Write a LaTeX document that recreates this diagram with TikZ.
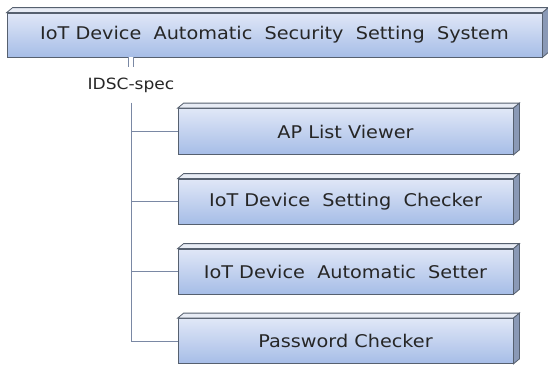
\documentclass[tikz,border=0pt]{standalone}
\usepackage{fontspec}
\setmainfont{DejaVu Sans}[FakeStretch=1.1]
\definecolor{boxtop}{HTML}{E0E7F7}
\definecolor{boxbot}{HTML}{A6BDE7}
\definecolor{boxedge}{HTML}{56606F}
\definecolor{boxlid}{HTML}{E8ECF5}
\definecolor{boxside}{HTML}{8A99B6}
\definecolor{wirecol}{HTML}{7A88A4}
\definecolor{inkcol}{HTML}{262626}
\tikzset{
	block/.style={draw=boxedge, line width=0.8pt, top color=boxtop, bottom color=boxbot,
		text=inkcol, font=\fontsize{17.5}{20}\selectfont, inner sep=0pt},
	lid/.style={draw=boxedge, line width=0.8pt, fill=boxlid},
	side/.style={draw=boxedge, line width=0.8pt, fill=boxside},
	wire/.style={draw=wirecol, line width=0.8pt},
	twin/.style={draw=wirecol, line width=0.9pt, double=white, double distance=3.5pt},
}
\begin{document}
\begin{tikzpicture}[x=1pt, y=-1pt]
	\useasboundingbox (0,0) rectangle (548,365);
	% System
	\node [block, minimum width=535pt, minimum height=44pt] (sys) at (274.5,35) {IoT Device\ \ Automatic\ \ Security\ \ Setting\ \ System};
	% Spec label
	\node [text=inkcol, font=\fontsize{15.5}{18}\selectfont, inner xsep=0pt, inner ysep=10pt] (spec) at (131,85) {IDSC-spec};
	% Modules
	\node [block, minimum width=335pt, minimum height=46pt] (ap) at (345.5,131.5) {AP List Viewer};
	\node [block, minimum width=335pt, minimum height=45pt] (chk) at (345.5,201.5) {IoT Device\ \ Setting\ \ Checker};
	\node [block, minimum width=335pt, minimum height=45pt] (set) at (345.5,271.5) {IoT Device\ \ Automatic\ \ Setter};
	\node [block, minimum width=335pt, minimum height=45pt] (pw) at (345.5,341) {Password Checker};
	% Box depth
	\foreach \n in {sys,ap,chk,set,pw} {
		\draw [lid] (\n.north west) -- ++(6,-5) -- ([shift={(6,-5)}]\n.north east) -- (\n.north east) -- cycle;
		\draw [side] (\n.north east) -- ++(6,-5) -- ([shift={(6,-5)}]\n.south east) -- (\n.south east) -- cycle;
	}
	% Links
	\draw [twin] (sys.south -| spec.north) -- (spec.north);
	\draw [wire] (spec.south) |- (pw.west);
	\foreach \n in {ap,chk,set}
		\draw [wire] (spec.south |- \n.west) -- (\n.west);
\end{tikzpicture}
\end{document}
